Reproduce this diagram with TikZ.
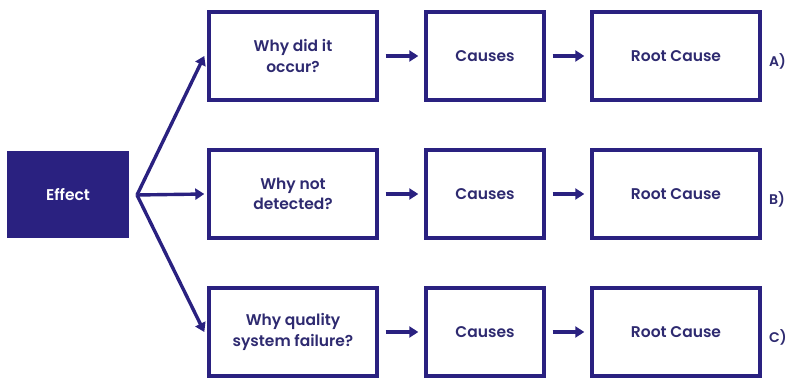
\documentclass[tikz,border=0pt]{standalone}
\usepackage{fontspec}
\setmainfont{Poppins}[BoldFont={* SemiBold}]
\usetikzlibrary{positioning,arrows.meta}
\definecolor{navy}{HTML}{2A2180}
\definecolor{navytext}{HTML}{2E2A70}

\tikzset{
  stepbox/.style={draw=navy, line width=3.4pt, fill=white, text=navytext,
    align=center, font=\fontsize{15.5}{20.5}\selectfont\bfseries},
  link/.style={navy, line width=3.4pt, -{Triangle[length=9pt,width=11pt]}}
}

\begin{document}
\begin{tikzpicture}[x=1pt,y=-1pt]
\useasboundingbox (0,0) rectangle (787,379);
% the effect on the left
\node[fill=navy, text=white, minimum width=122pt, minimum height=87pt,
  font=\fontsize{15.5}{18}\selectfont\bfseries] (effect) at (68,195) {Effect};
\coordinate (fan) at (137,195);
% one row per question
\foreach \row/\y/\question/\tag in {
	a/56/{Why did it\\occur?}/A),
	b/194/{Why not\\detected?}/B),
	c/332/{Why quality\\system failure?}/C)
} {
\node[stepbox, minimum width=168pt, minimum height=88pt] (q\row) at (293,\y) {\question};
\node[stepbox, minimum width=118pt, minimum height=88pt] (c\row) at (485,\y) {Causes};
\node[stepbox, minimum width=168pt, minimum height=88pt] (r\row) at (676,\y) {Root Cause};
\node[text=navytext, font=\fontsize{14}{16}\selectfont\bfseries, anchor=west, inner sep=0pt] (t\row) at (769,\y+5) {\tag};
\draw[link] (fan) -- ([xshift=-3pt]q\row.west);
\draw[link] ([xshift=7pt]q\row.east) -- ([xshift=-6pt]c\row.west);
\draw[link] ([xshift=7pt]c\row.east) -- ([xshift=-6pt]r\row.west);
};
\end{tikzpicture}
\end{document}
